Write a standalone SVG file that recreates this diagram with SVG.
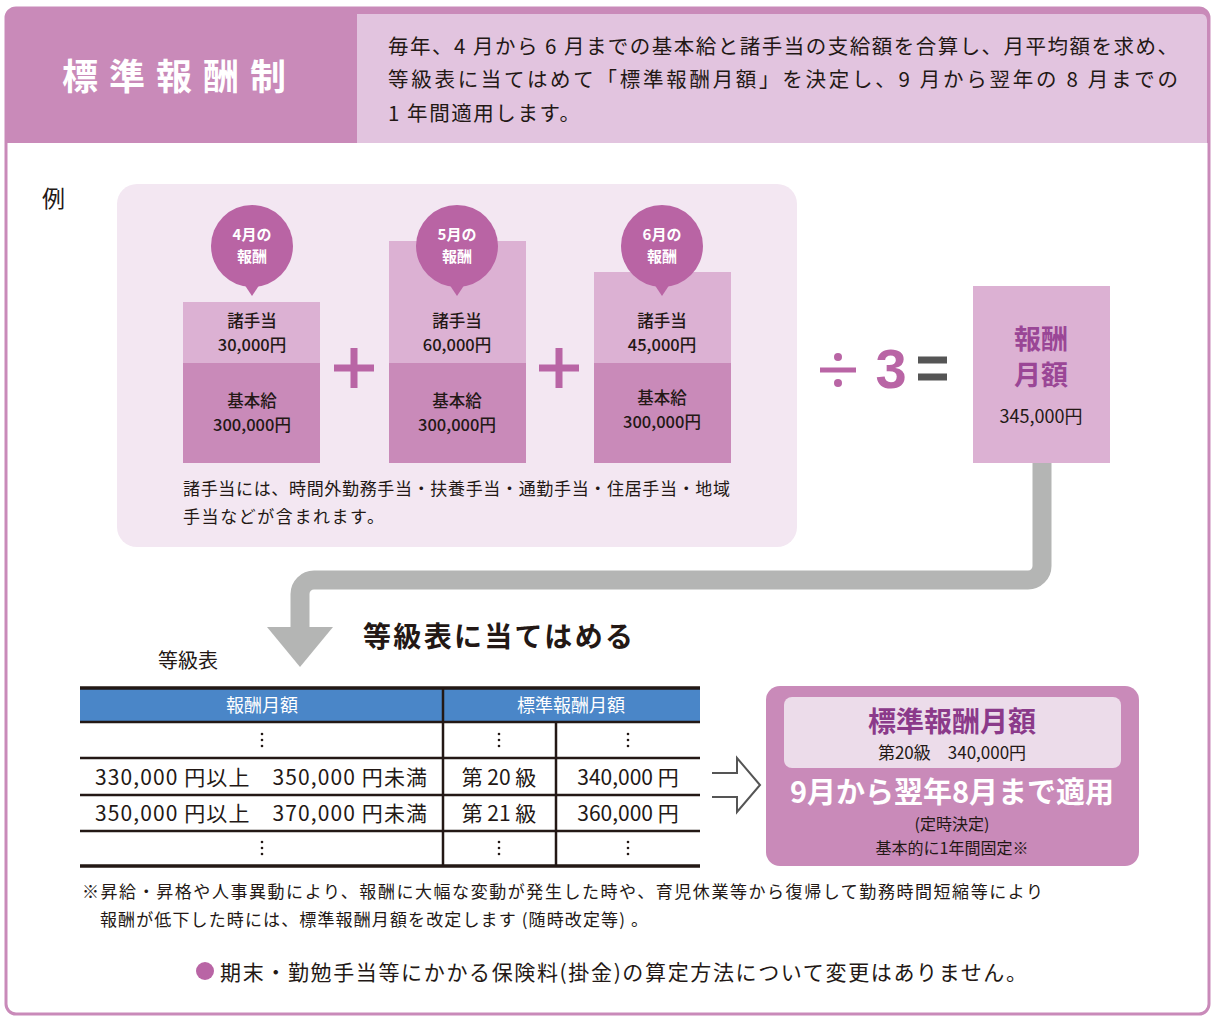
<svg xmlns="http://www.w3.org/2000/svg" width="1211" height="1017" viewBox="0 0 1211 1017">
<defs>
<style>
text{font-family:"Noto Sans CJK JP","Noto Sans",sans-serif;fill:#231815}
.w{fill:#fff}
.b{font-weight:bold}
.c{text-anchor:middle}
.dk{fill:#c98ab9}
.lt{fill:#dcb1d3}
.bub{fill:#b964a4}
.rule{stroke:#231815;stroke-width:2.5}
.dots{fill:#231815}
.col{font-size:16.5px;text-anchor:middle;font-weight:500}
</style>
</defs>
<rect width="1211" height="1017" fill="#fff"/>
<g id="frame">
<rect x="6" y="8" width="1203" height="1006" rx="10" fill="#fff" stroke="#c98ab9" stroke-width="3"/>
<path d="M6 143 V18 A10 10 0 0 1 16 8 H1199 A10 10 0 0 1 1209 18 V143 Z" fill="#c98ab9"/>
<path d="M357 14 H1200 A6 6 0 0 1 1207 20 V143 H357 Z" fill="#e2c4df"/>
</g>
<g id="header">
<text x="62" y="90" class="w b" font-size="36" letter-spacing="11">標準報酬制</text>
<text x="388" y="54" font-size="20.5" textLength="790" lengthAdjust="spacing">毎年、4 月から 6 月までの基本給と諸手当の支給額を合算し、月平均額を求め、</text>
<text x="388" y="87" font-size="20.5" textLength="790" lengthAdjust="spacing">等級表に当てはめて「標準報酬月額」を決定し、9 月から翌年の 8 月までの</text>
<text x="388" y="121" font-size="20.5" textLength="192" lengthAdjust="spacing">1 年間適用します。</text>
</g>
<text x="42" y="207" font-size="23">例</text>
<g id="example-panel">
<rect x="117" y="184" width="680" height="363" rx="20" fill="#f3e7f2"/>
<text x="183" y="495" font-size="17" textLength="547" lengthAdjust="spacing">諸手当には、時間外勤務手当・扶養手当・通勤手当・住居手当・地域</text>
<text x="183" y="523" font-size="17" textLength="201" lengthAdjust="spacing">手当などが含まれます。</text>
</g>
<g id="april">
<rect x="183" y="302" width="137" height="61" class="lt"/>
<rect x="183" y="363" width="137" height="100" class="dk"/>
<circle cx="252" cy="246" r="41" class="bub"/>
<path d="M244 284 L252 296 L260 284 Z" class="bub"/>
<text x="252" y="240" class="w b c" font-size="15">4月の</text>
<text x="252" y="262" class="w b c" font-size="15">報酬</text>
<text x="252" y="327" class="col">諸手当</text>
<text x="252" y="351" class="col">30,000円</text>
<text x="252" y="407" class="col">基本給</text>
<text x="252" y="431" class="col">300,000円</text>
</g>
<g id="may">
<rect x="389" y="241" width="137" height="122" class="lt"/>
<rect x="389" y="363" width="137" height="100" class="dk"/>
<circle cx="457" cy="246" r="41" class="bub"/>
<path d="M449 284 L457 296 L465 284 Z" class="bub"/>
<text x="457" y="240" class="w b c" font-size="15">5月の</text>
<text x="457" y="262" class="w b c" font-size="15">報酬</text>
<text x="457" y="327" class="col">諸手当</text>
<text x="457" y="351" class="col">60,000円</text>
<text x="457" y="407" class="col">基本給</text>
<text x="457" y="431" class="col">300,000円</text>
</g>
<g id="june">
<rect x="594" y="272" width="137" height="91" class="lt"/>
<rect x="594" y="363" width="137" height="100" class="dk"/>
<circle cx="662" cy="246" r="41" class="bub"/>
<path d="M654 284 L662 296 L670 284 Z" class="bub"/>
<text x="662" y="240" class="w b c" font-size="15">6月の</text>
<text x="662" y="262" class="w b c" font-size="15">報酬</text>
<text x="662" y="327" class="col">諸手当</text>
<text x="662" y="351" class="col">45,000円</text>
<text x="662" y="404" class="col">基本給</text>
<text x="662" y="428" class="col">300,000円</text>
</g>
<g id="operators">
<path d="M334 368 H374 M354 348 V388 M539 368 H579 M559 348 V388" stroke="#b965a5" stroke-width="7"/>
<path d="M820 370 H856" stroke="#b965a5" stroke-width="5"/>
<circle cx="838" cy="357" r="4" fill="#b965a5"/>
<circle cx="838" cy="383" r="4" fill="#b965a5"/>
<text x="891" y="388" class="c b" font-size="56" style="fill:#b965a5;font-family:'Liberation Sans',sans-serif">3</text>
<path d="M918 360 H947 M918 377 H947" stroke="#555" stroke-width="7"/>
</g>
<g id="average">
<rect x="973" y="286" width="137" height="177" class="lt"/>
<text x="1041" y="349" class="c b" font-size="27" style="fill:#9a4696">報酬</text>
<text x="1041" y="385" class="c b" font-size="27" style="fill:#9a4696">月額</text>
<text x="1041" y="423" class="c" font-size="18">345,000円</text>
</g>
<g id="connectors">
<path d="M1042 463 V566 A14 14 0 0 1 1028 580 H314 A14 14 0 0 0 300 594 V628" fill="none" stroke="#b4b5b4" stroke-width="19"/>
<path d="M267 627 H333 L300 667 Z" fill="#b4b5b4"/>
<path d="M712 773 H737 V758 L760 785 L737 812 V797 H712" fill="#fff" stroke="#555" stroke-width="2"/>
</g>
<text x="363" y="647" class="b" font-size="28" textLength="270" lengthAdjust="spacing">等級表に当てはめる</text>
<g id="grade-table">
<text x="158" y="668" font-size="20">等級表</text>
<rect x="80" y="688" width="620" height="34" fill="#4a86c8"/>
<text x="262" y="712" class="w c" font-size="18">報酬月額</text>
<text x="571" y="712" class="w c" font-size="18">標準報酬月額</text>
<path d="M80 688 H700 M80 866 H700" stroke="#231815" stroke-width="3.5"/>
<path d="M80 722 H700 M80 758 H700 M80 795 H700 M80 831 H700 M443 688 V866 M556 722 V866" class="rule" fill="none"/>
<g class="dots">
<circle cx="262" cy="734" r="1.3"/><circle cx="262" cy="740" r="1.3"/><circle cx="262" cy="746" r="1.3"/>
<circle cx="499" cy="734" r="1.3"/><circle cx="499" cy="740" r="1.3"/><circle cx="499" cy="746" r="1.3"/>
<circle cx="628" cy="734" r="1.3"/><circle cx="628" cy="740" r="1.3"/><circle cx="628" cy="746" r="1.3"/>
<circle cx="262" cy="842" r="1.3"/><circle cx="262" cy="848" r="1.3"/><circle cx="262" cy="854" r="1.3"/>
<circle cx="499" cy="842" r="1.3"/><circle cx="499" cy="848" r="1.3"/><circle cx="499" cy="854" r="1.3"/>
<circle cx="628" cy="842" r="1.3"/><circle cx="628" cy="848" r="1.3"/><circle cx="628" cy="854" r="1.3"/>
</g>
<text x="95" y="785" font-size="21" textLength="332" lengthAdjust="spacing">330,000 円以上　350,000 円未満</text>
<text x="95" y="821" font-size="21" textLength="332" lengthAdjust="spacing">350,000 円以上　370,000 円未満</text>
<text x="499" y="785" class="c" font-size="21">第 20 級</text>
<text x="499" y="821" class="c" font-size="21">第 21 級</text>
<text x="628" y="785" class="c" font-size="21">340,000 円</text>
<text x="628" y="821" class="c" font-size="21">360,000 円</text>
</g>
<g id="result">
<rect x="766" y="686" width="373" height="180" rx="14" fill="#c98ab9"/>
<rect x="784" y="697" width="337" height="71" rx="8" fill="#ecdcea"/>
<text x="952" y="732" class="c b" font-size="28" style="fill:#8b3a8a">標準報酬月額</text>
<text x="952" y="759" class="c" font-size="17">第20級　340,000円</text>
<text x="952" y="803" class="c w b" font-size="29">9月から翌年8月まで適用</text>
<text x="952" y="830" class="c" font-size="16">(定時決定)</text>
<text x="952" y="854" class="c" font-size="16">基本的に1年間固定※</text>
</g>
<g id="notes">
<text x="82" y="898" font-size="17" textLength="961" lengthAdjust="spacing">※昇給・昇格や人事異動により、報酬に大幅な変動が発生した時や、育児休業等から復帰して勤務時間短縮等により</text>
<text x="100" y="926" font-size="17" textLength="548" lengthAdjust="spacing">報酬が低下した時には、標準報酬月額を改定します (随時改定等) 。</text>
<circle cx="205" cy="971" r="9" fill="#b965a5"/>
<text x="220" y="980" font-size="21" textLength="807" lengthAdjust="spacing">期末・勤勉手当等にかかる保険料(掛金)の算定方法について変更はありません。</text>
</g>
</svg>
